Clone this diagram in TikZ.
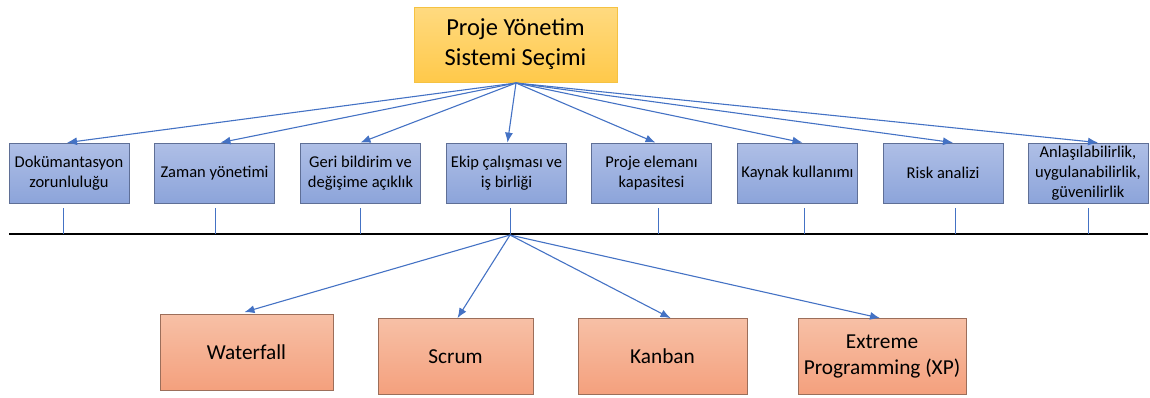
\documentclass[tikz,border=0pt]{standalone}
\usepackage{fontspec}
\setmainfont{Carlito}
\usetikzlibrary{arrows.meta}
\definecolor{arr}{HTML}{4472C4}
\definecolor{topfillA}{HTML}{FFDA80}
\definecolor{topfillB}{HTML}{FFC94A}
\definecolor{topline}{HTML}{F5C242}
\definecolor{critA}{HTML}{AFBFE6}
\definecolor{critB}{HTML}{8CA4DA}
\definecolor{critline}{HTML}{5F6F96}
\definecolor{methA}{HTML}{F7C0A6}
\definecolor{methB}{HTML}{F4A07D}
\definecolor{methline}{HTML}{9C6E5A}
\tikzset{
  topbox/.style={draw=topline, line width=1pt, top color=topfillA, bottom color=topfillB,
    minimum width=203pt, minimum height=75pt, align=center, inner sep=2pt,
    font=\fontsize{24.5}{30}\selectfont},
  critbox/.style={draw=critline, line width=0.8pt, top color=critA, bottom color=critB,
    minimum width=120pt, minimum height=60pt, align=center, inner sep=1pt,
    font=\fontsize{16.5}{20}\selectfont},
  methbox/.style={draw=methline, line width=0.8pt, top color=methA, bottom color=methB,
    minimum height=76pt, align=center, inner sep=1pt,
    font=\fontsize{21.3}{26}\selectfont},
  conn/.style={draw=arr, line width=1.1pt, -{Latex[length=10pt,width=8pt]}},
  tick/.style={draw=arr, line width=1pt},
  baseline/.style={draw=black, line width=1.6pt}
}
\begin{document}
\begin{tikzpicture}[x=1pt,y=-1pt]
\useasboundingbox (0,0) rectangle (1150,397);
\node[topbox] (top) at (515.5,44.5) {Proje Yönetim\\Sistemi Seçimi};
\coordinate (src) at (516,83);
\node[critbox] (c1) at (69,173) {Dokümantasyon\\zorunluluğu};
\node[critbox] (c2) at (214.5,173) {Zaman yönetimi};
\node[critbox] (c3) at (360.5,173) {Geri bildirim ve\\değişime açıklık};
\node[critbox] (c4) at (506.5,173) {Ekip çalışması ve\\iş birliği};
\node[critbox] (c5) at (651.5,173) {Proje elemanı\\kapasitesi};
\node[critbox] (c6) at (797.5,173) {Kaynak kullanımı};
\node[critbox] (c7) at (943,173) {Risk analizi};
\node[critbox] (c8) at (1088,173) {Anlaşılabilirlik,\\uygulanabilirlik,\\güvenilirlik};
\foreach \n/\dx in {c1/-2,c2/6,c3/0,c4/1,c5/4,c6/5,c7/10,c8/10}
  \draw[conn] (src) -- ([xshift=\dx pt]\n.north);
\coordinate (L) at (9,234);
\coordinate (R) at (1148,234);
\draw[baseline] (L) -- (R);
\foreach \n/\x in {c1/63,c2/215,c3/360,c4/510,c5/658,c6/804,c7/955,c8/1088}
  \draw[tick] (\x,208) -- (\x,234);
\coordinate (hub) at (510,235);
\node[methbox, minimum width=173pt] (m1) at (246.5,352.5) {Waterfall};
\node[methbox, minimum width=155pt] (m2) at (455.5,356.5) {Scrum};
\node[methbox, minimum width=169pt] (m3) at (662.5,356.5) {Kanban};
\node[methbox, minimum width=168pt] (m4) at (882,356.5) {Extreme\\Programming (XP)};
\draw[conn] (hub) -- ([xshift=-2pt,yshift=2pt]m1.north);
\draw[conn] (hub) -- ([xshift=2pt]m2.north);
\draw[conn] (hub) -- ([xshift=8pt]m3.north);
\draw[conn] (hub) -- ([xshift=-2pt]m4.north);
\end{tikzpicture}
\end{document}
